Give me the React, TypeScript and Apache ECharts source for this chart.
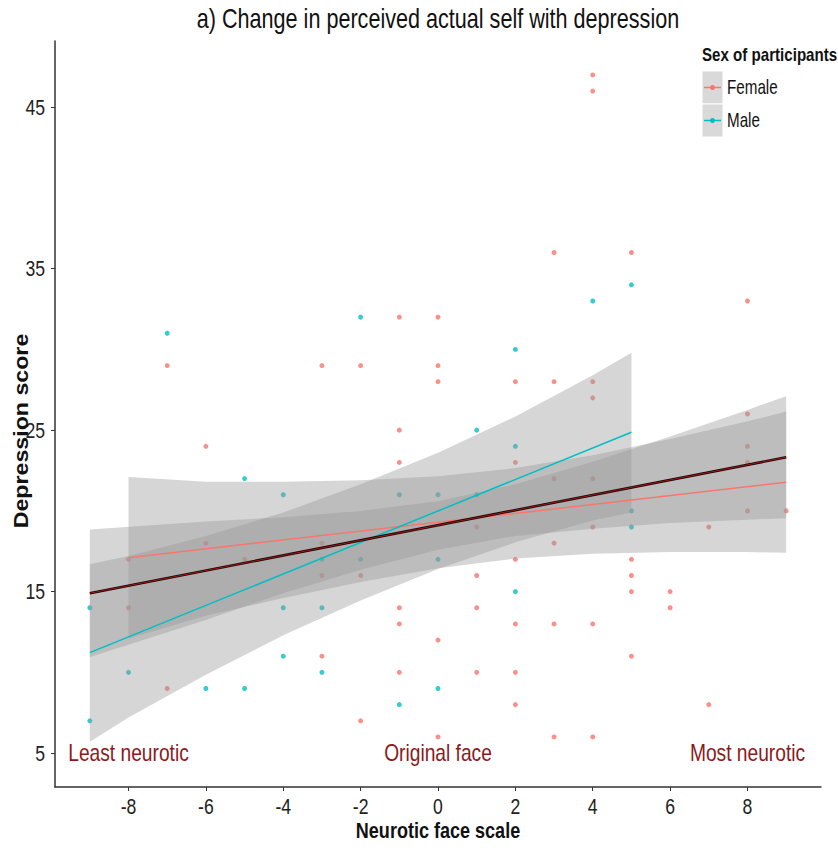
import React, { useEffect, useRef } from "react";
import * as echarts from "echarts";

// ---- data ----
const xTickValues = [-8, -6, -4, -2, 0, 2, 4, 6, 8];
const yTickValues = [5, 15, 25, 35, 45];

const femalePoints: [number, number][] = [
  [-8, 17], [-8, 14], [-7, 29], [-7, 9], [-6, 24], [-6, 18], [-5, 17],
  [-3, 29], [-3, 18], [-3, 16], [-3, 11], [-2, 29], [-2, 16], [-2, 7],
  [-1, 32], [-1, 25], [-1, 23], [-1, 14], [-1, 13], [-1, 10],
  [0, 32], [0, 29], [0, 28], [0, 12], [0, 6],
  [1, 19], [1, 16], [1, 14], [1, 10],
  [2, 28], [2, 23], [2, 17], [2, 13], [2, 10], [2, 8],
  [3, 36], [3, 28], [3, 22], [3, 18], [3, 13], [3, 6],
  [4, 47], [4, 46], [4, 28], [4, 27], [4, 22], [4, 19], [4, 13], [4, 6],
  [5, 36], [5, 17], [5, 16], [5, 15], [5, 11],
  [6, 15], [6, 14], [7, 19], [7, 8],
  [8, 33], [8, 26], [8, 24], [8, 23], [8, 20], [9, 20],
];

const malePoints: [number, number][] = [
  [-9, 14], [-9, 7], [-8, 10], [-7, 31], [-6, 9], [-5, 22], [-5, 9],
  [-4, 21], [-4, 14], [-4, 11], [-3, 17], [-3, 14], [-3, 10],
  [-2, 32], [-2, 17], [-1, 21], [-1, 8], [0, 21], [0, 17], [0, 9],
  [1, 25], [1, 21], [2, 30], [2, 24], [2, 15], [4, 33], [5, 34], [5, 20], [5, 19],
];

// fitted lines (endpoints)
const femaleLine: [number, number][] = [[-8, 17.1], [9, 21.77]];
const maleLine: [number, number][] = [[-9, 11.22], [5, 24.87]];
const allLine: [number, number][] = [[-9, 14.9], [9, 23.32]];

// confidence ribbons [x, lower, upper]
const maleBand: [number, number, number][] = [
  [-9, 5.7, 16.7], [-8, 7.2, 17.2], [-6, 9.85, 18.45], [-4, 12.3, 19.9],
  [-2, 14.45, 21.65], [0, 16.4, 23.6], [2, 18.05, 25.85], [4, 19.4, 28.4], [5, 19.9, 29.8],
];
const femaleBand: [number, number, number][] = [
  [-8, 12.1, 22.1], [-6, 13.5, 21.8], [-4, 14.6, 21.8], [-2, 15.6, 21.9],
  [0, 16.45, 22.15], [2, 17.05, 22.65], [4, 17.35, 23.45], [6, 17.45, 24.45],
  [8, 17.45, 25.55], [9, 17.4, 26.15],
];
const allBand: [number, number, number][] = [
  [-9, 10.95, 18.85], [-6, 13.25, 19.35], [-4, 14.9, 19.6], [-2, 16.35, 20.0],
  [0, 17.6, 20.6], [2, 18.45, 21.65], [4, 18.9, 23.05], [6, 19.25, 24.6],
  [8, 19.45, 26.25], [9, 19.55, 27.1],
];

const annotations: { x: number; y: number; text: string }[] = [
  { x: -8, y: 5, text: "Least neurotic" },
  { x: 0, y: 5, text: "Original face" },
  { x: 8, y: 5, text: "Most neurotic" },
];

const legendLabels = ["Female", "Male"];

const FEMALE = "#F8766D";
const MALE = "#00BFC4";
const FONT = "'Liberation Sans', Arial, sans-serif";

function bandSeries(band: [number, number, number][]) {
  return {
    type: "custom",
    z: 3,
    silent: true,
    data: band,
    encode: { x: 0, y: [1, 2] },
    renderItem: (params: any, api: any) => {
      if (params.dataIndex !== 0) return { type: "group", children: [] };
      const upper = band.map((r) => api.coord([r[0], r[2]]));
      const lower = band.map((r) => api.coord([r[0], r[1]])).reverse();
      return {
        type: "polygon",
        shape: { points: upper.concat(lower) },
        style: { fill: "rgba(153,153,153,0.4)", stroke: "none" },
      };
    },
  };
}

function txt(
  text: string,
  x: number,
  y: number,
  size: number,
  opts: { weight?: string; color?: string; align?: string; scaleX?: number; rotation?: number } = {}
) {
  const align = opts.align || "center";
  return {
    type: "text",
    x,
    y,
    z: 20,
    scaleX: opts.scaleX ?? 0.8,
    rotation: opts.rotation ?? 0,
    silent: true,
    style: {
      text,
      fontFamily: FONT,
      fontSize: size,
      fontWeight: opts.weight || "normal",
      fill: opts.color || "#111",
      align,
      textAlign: align,
      verticalAlign: "middle",
      textVerticalAlign: "middle",
    },
  };
}

export default function App() {
  const ref = useRef<HTMLDivElement>(null);
  useEffect(() => {
    document.body.style.margin = "0";
    const chart = echarts.init(ref.current!, null, { renderer: "svg" });
    chart.setOption({
      animation: false,
      backgroundColor: "#ffffff",
      grid: { left: 55, right: 17, top: 41, bottom: 65, outerBoundsMode: "none", containLabel: false },
      xAxis: {
        type: "value",
        min: -9.9,
        max: 9.9,
        splitLine: { show: false },
        axisLine: { show: true, onZero: false, lineStyle: { color: "#333", width: 1.5 } },
        axisTick: { show: true, customValues: xTickValues, length: 4, lineStyle: { color: "#333" } },
        axisLabel: { show: false },
      },
      yAxis: {
        type: "value",
        min: 2.9,
        max: 49.1,
        splitLine: { show: false },
        axisLine: { show: true, onZero: false, lineStyle: { color: "#333", width: 1.5 } },
        axisTick: { show: true, customValues: yTickValues, length: 4, lineStyle: { color: "#333" } },
        axisLabel: { show: false },
      },
      series: [
        { type: "scatter", z: 2, data: femalePoints, symbolSize: 5, itemStyle: { color: FEMALE }, silent: true },
        { type: "scatter", z: 2, data: malePoints, symbolSize: 5, itemStyle: { color: MALE }, silent: true },
        bandSeries(maleBand),
        bandSeries(femaleBand),
        bandSeries(allBand),
        { type: "line", z: 5, data: femaleLine, symbol: "none", lineStyle: { color: FEMALE, width: 1.5 }, silent: true },
        { type: "line", z: 5, data: maleLine, symbol: "none", lineStyle: { color: MALE, width: 1.5 }, silent: true },
        { type: "line", z: 6, data: allLine, symbol: "none", lineStyle: { color: "#1a0505", width: 2.6 }, silent: true },
        { type: "line", z: 7, data: allLine, symbol: "none", lineStyle: { color: "#a01818", width: 1 }, silent: true },
      ],
    });

    const px = (x: number, y: number) => chart.convertToPixel({ gridIndex: 0 }, [x, y]) as number[];
    const yMin = 2.9;
    const xMin = -9.9;
    const axisBottom = px(0, yMin)[1];
    const axisLeft = px(xMin, 0)[0];

    const graphics: any[] = [];
    // title
    graphics.push(txt("a) Change in perceived actual self with depression", (px(xMin, 0)[0] + px(9.9, 0)[0]) / 2, 19, 27));
    // tick labels
    xTickValues.forEach((v) => {
      graphics.push(txt(String(v), px(v, yMin)[0], axisBottom + 19, 22, { color: "#222" }));
    });
    yTickValues.forEach((v) => {
      graphics.push(txt(String(v), axisLeft - 10, px(xMin, v)[1], 22, { color: "#222", align: "right" }));
    });
    // axis names
    graphics.push(txt("Neurotic face scale", (px(xMin, 0)[0] + px(9.9, 0)[0]) / 2, axisBottom + 43, 22, { weight: "bold", scaleX: 0.82 }));
    graphics.push(
      txt("Depression score", 21, (px(0, 49.1)[1] + axisBottom) / 2 + 17, 20, {
        weight: "bold",
        scaleX: 1.16,
        rotation: Math.PI / 2,
      })
    );
    // annotations (placed in data coordinates)
    annotations.forEach((a) => {
      const p = px(a.x, a.y);
      graphics.push(txt(a.text, p[0], p[1], 24, { color: "#8B1A1A" }));
    });
    // legend
    graphics.push(txt("Sex of participants", 702, 55, 18, { weight: "bold", align: "left", scaleX: 0.84 }));
    const keyColors = [FEMALE, MALE];
    legendLabels.forEach((label, i) => {
      const top = 71 + i * 33;
      const cy = top + 16.5;
      graphics.push({ type: "rect", z: 19, silent: true, shape: { x: 702, y: top, width: 21, height: 33 }, style: { fill: "#d9d9d9", stroke: "#ffffff", lineWidth: 1 } });
      graphics.push({ type: "line", z: 20, silent: true, shape: { x1: 704, y1: cy, x2: 721, y2: cy }, style: { stroke: keyColors[i], lineWidth: 1.5 } });
      graphics.push({ type: "circle", z: 20, silent: true, shape: { cx: 712.5, cy, r: 2.5 }, style: { fill: keyColors[i] } });
      graphics.push(txt(label, 727, cy, 20, { align: "left", scaleX: 0.76 }));
    });

    chart.setOption({ graphic: graphics });
    return () => chart.dispose();
  }, []);
  return <div ref={ref} style={{ width: 838, height: 852 }} />;
}
